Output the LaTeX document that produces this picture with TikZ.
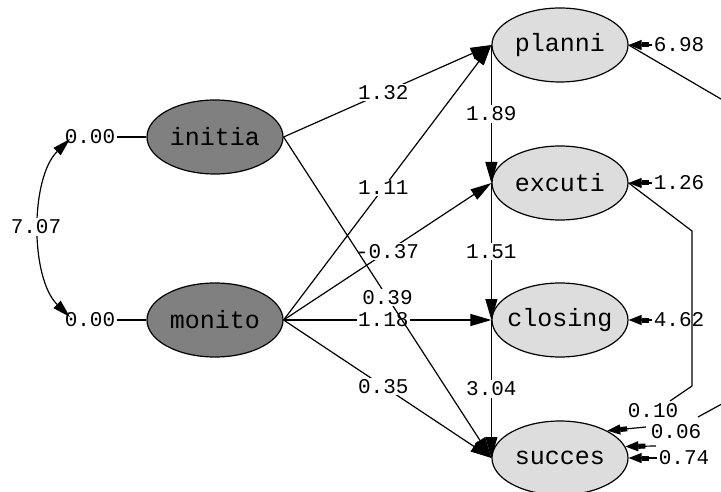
\documentclass[tikz,border=0pt]{standalone}
\usepackage{fontspec}
\setmonofont{Liberation Mono}
\usetikzlibrary{shapes.geometric,arrows.meta}
\definecolor{indgray}{RGB}{128,128,128}
\definecolor{depgray}{RGB}{221,221,221}
\newcommand{\lvtext}[1]{\makebox[60pt][c]{#1}}
\begin{document}
\begin{tikzpicture}[x=1pt,y=-1pt,
  lat/.style={ellipse,draw,line width=1.2pt,minimum width=136pt,minimum height=74pt,inner sep=0pt,font=\ttfamily\fontsize{25}{25}\selectfont},
  ind/.style={lat,fill=indgray},
  dep/.style={lat,fill=depgray},
  numc/.style={font=\ttfamily\fontsize{21}{21}\selectfont,inner sep=1.5pt},
  num/.style={numc,fill=white},
  conn/.style={line width=1.2pt},
  arr/.style={conn,-{Triangle[length=21pt,width=12pt]}},
  earr/.style={conn,-{Rectangle[length=7pt,width=5pt]Triangle[length=13pt,width=10pt]}},
]
\useasboundingbox (0,0) rectangle (721,492);
% latent variables
\node[ind] (initia) at (215,137) {\lvtext{initia}};
\node[ind] (monito) at (215,320) {\lvtext{monito}};
\node[dep] (planni) at (560,45) {\lvtext{planni}};
\node[dep] (excuti) at (560,183) {\lvtext{excuti}};
\node[dep] (closing) at (560,320) {\lvtext{closing}};
\node[dep] (succes) at (560,458) {\lvtext{succes}};
% variances of exogenous
\node[numc] (z1) at (90,137) {0.00};
\node[numc] (z2) at (90,320) {0.00};
\draw[conn] (z1.east) -- (initia.west);
\draw[conn] (z2.east) -- (monito.west);
\coordinate (c1) at (70,139);
\coordinate (c2) at (70,317);
\draw[conn,{Triangle[length=18pt,width=10pt]}-{Triangle[length=18pt,width=10pt]}] (c1) .. controls (30,178) and (30,278) .. (c2);
\node[num] (cv) at (36,227) {7.07};
% structural paths
\draw[arr] (planni.west) -- node[num,pos=0.5]{1.89} (excuti.west);
\draw[arr] (excuti.west) -- node[num,pos=0.5]{1.51} (closing.west);
\draw[arr] (closing.west) -- node[num,pos=0.5]{3.04} (succes.west);
\draw[arr] (initia.east) -- node[num,pos=0.48]{1.32} (planni.west);
\draw[arr] (monito.east) -- node[num,pos=0.48]{1.11} (planni.west);
\draw[arr] (monito.east) -- node[num,pos=0.5]{-0.37} (excuti.west);
\draw[arr] (monito.east) -- node[num,pos=0.48]{1.18} (closing.west);
\draw[arr] (monito.east) -- node[num,pos=0.48]{0.35} (succes.west);
\draw[arr] (initia.east) -- node[num,pos=0.5]{0.39} (succes.west);
% error variances
\node[numc] (e1) at (679,45) {6.98};
\node[numc] (e2) at (679,183) {1.26};
\node[numc] (e3) at (679,320) {4.62};
\node[numc] (e4) at (684,458) {0.74};
\draw[earr] (e1.west) -- (planni.east);
\draw[earr] (e2.west) -- (excuti.east);
\draw[earr] (e3.west) -- (closing.east);
\draw[earr] (e4.west) -- (succes.east);
% error covariances
\node[numc] (cv1) at (653,411) {0.10};
\node[numc] (cv2) at (676,432) {0.06};
\coordinate (b1) at (692,231);
\coordinate (b2) at (692,386);
\coordinate (b3) at (670,401);
\coordinate (q1) at (646,427);
\draw[conn] (excuti.east) -- (b1) -- (b2) -- (b3);
\draw[earr] (q1) -- (succes.30);
\coordinate (d1) at (762,123);
\coordinate (d2) at (762,382);
\coordinate (d3) at (698,417);
\coordinate (q2) at (656,446);
\draw[conn] (planni.east) -- (d1) -- (d2) -- (d3);
\draw[earr] (q2) -- (succes.10);
\end{tikzpicture}
\end{document}
